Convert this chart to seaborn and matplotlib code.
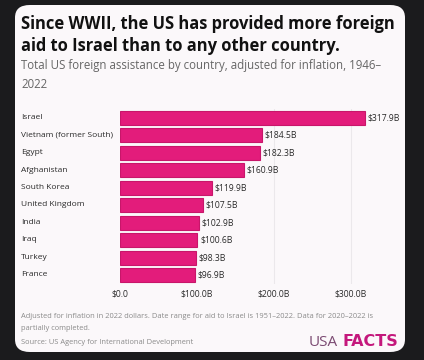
import matplotlib
matplotlib.use('Agg')
import matplotlib.pyplot as plt
import seaborn as sns
import pandas as pd
from matplotlib.patches import FancyBboxPatch

# Data
countries = ['Israel', 'Vietnam (former South)', 'Egypt', 'Afghanistan', 'South Korea',
             'United Kingdom', 'India', 'Iraq', 'Turkey', 'France']
aid_billions = [317.9, 184.5, 182.3, 160.9, 119.9, 107.5, 102.9, 100.6, 98.3, 96.9]
tick_values = [0, 100, 200, 300]
tick_labels = ['$0.0', '$100.0B', '$200.0B', '$300.0B']

df = pd.DataFrame({'Country': countries, 'Aid': aid_billions})

plt.rcParams['font.family'] = ['Open Sans', 'DejaVu Sans']

W, H = 424, 360
fig = plt.figure(figsize=(W / 100, H / 100), dpi=100)
fig.patch.set_facecolor('#1b1b1d')

# white card behind everything
card = FancyBboxPatch((15 / W, 8 / H), 390 / W, 347 / H,
                      boxstyle='round,pad=0,rounding_size=0.035',
                      transform=fig.transFigure, facecolor='#fbf8fa',
                      edgecolor='none', zorder=-5)
fig.patches.append(card)

# bar axes
ax = fig.add_axes([120 / W, (H - 283.7) / H, 277 / W, 174.4 / H])
ax.set_facecolor('none')
sns.barplot(data=df, x='Aid', y='Country', orient='h', color='#e31c7b',
            saturation=1, width=0.8, edgecolor='#c8166a', linewidth=0.8, ax=ax)
ax.set_xlim(0, 360)
ax.set_ylim(9.5, -0.5)

for v in [200, 300]:
    ax.axvline(v, color='#ebe8eb', lw=0.8, zorder=0)

for i, v in enumerate(aid_billions):
    ax.text(v + 3.5, i, f'${v:.1f}B', va='center', ha='left', fontsize=6.2, color='#2a2a2a')

ax.set_xticks(tick_values)
ax.set_xticklabels(tick_labels, fontsize=6.2, color='#2a2a2a')
ax.set_yticks(range(len(countries)))
ax.set_yticklabels([])
ax.tick_params(length=0, pad=4)
ax.set_xlabel('')
ax.set_ylabel('')
for s in ax.spines.values():
    s.set_visible(False)

for i, c in enumerate(countries):
    fig.text(21 / W, (H - (118 + i * 17.4)) / H, c, fontsize=6.0, color='#2a2a2a',
             va='center', ha='left')

# titles
fig.text(21 / W, (H - 24) / H, 'Since WWII, the US has provided more foreign',
         fontsize=11.9, fontweight='bold', color='#111111', va='center')
fig.text(21 / W, (H - 46) / H, 'aid to Israel than to any other country.',
         fontsize=11.9, fontweight='bold', color='#111111', va='center')
fig.text(21 / W, (H - 66) / H,
         'Total US foreign assistance by country, adjusted for inflation, 1946–',
         fontsize=8.3, color='#666666', va='center')
fig.text(21 / W, (H - 85) / H, '2022', fontsize=8.3, color='#666666', va='center')

# footnotes
fig.text(21 / W, (H - 317) / H,
         'Adjusted for inflation in 2022 dollars. Date range for aid to Israel is 1951–2022. Data for 2020–2022 is',
         fontsize=5.4, color='#8a8a8a', va='center')
fig.text(21 / W, (H - 328) / H, 'partially completed.', fontsize=5.4, color='#8a8a8a', va='center')
fig.text(21 / W, (H - 342) / H, 'Source: US Agency for International Development',
         fontsize=5.4, color='#8a8a8a', va='center')

# logo
fig.text(309 / W, (H - 342) / H, 'USA', fontsize=11, color='#7b4a72', va='center')
fig.text(343 / W, (H - 342) / H, 'FACTS', fontsize=11.5, fontweight='bold',
         color='#c4187c', va='center', family='DejaVu Sans')

fig.savefig('out.png', dpi=100, facecolor=fig.get_facecolor())
